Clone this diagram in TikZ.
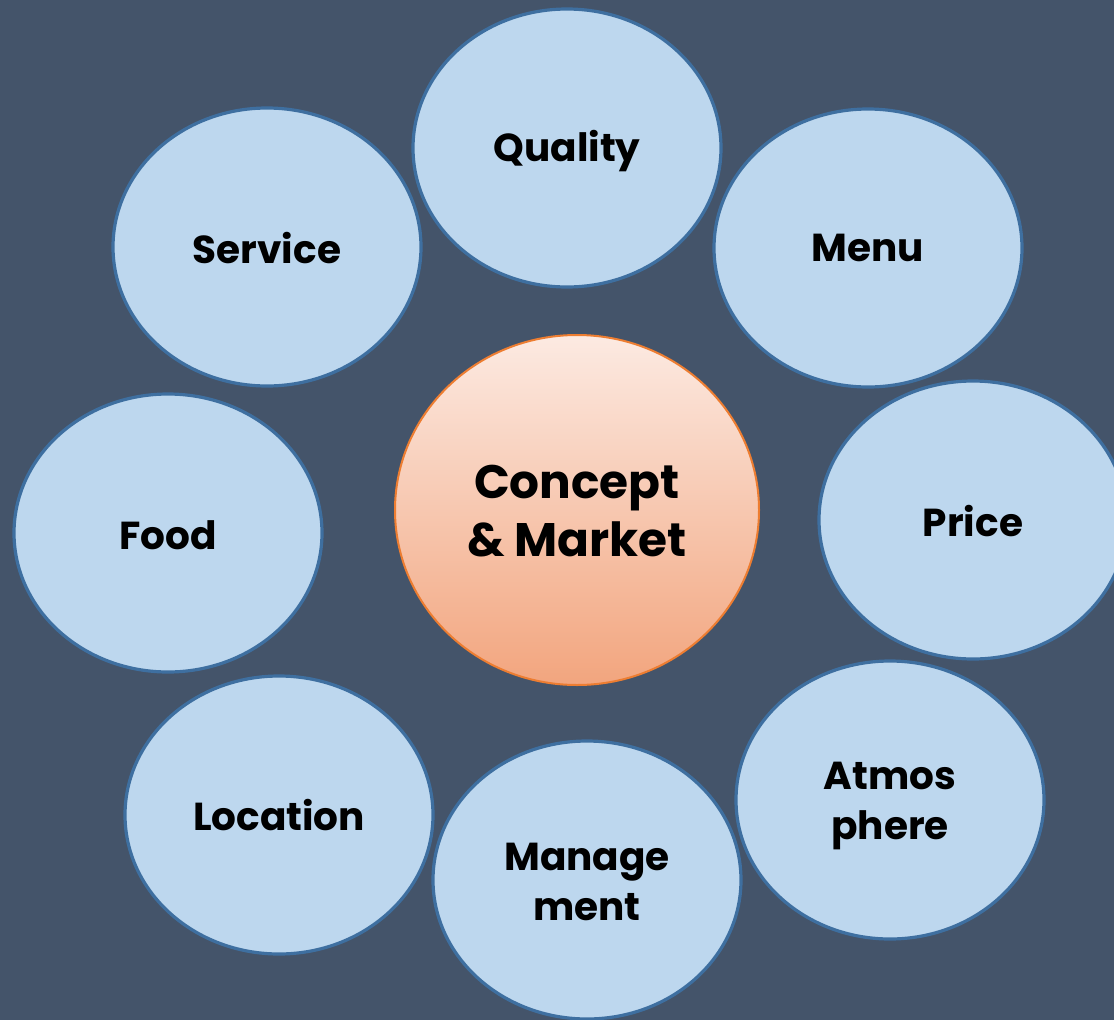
\documentclass[tikz,border=0pt]{standalone}
\usepackage{fontspec}
\setmainfont{Poppins}[BoldFont={* Bold}]
\usetikzlibrary{shapes.geometric}
\definecolor{bgc}{HTML}{44546A}
\definecolor{bubfill}{HTML}{BDD7EE}
\definecolor{bubdraw}{HTML}{3E6FA0}
\definecolor{ctop}{HTML}{FCEAE2}
\definecolor{cbot}{HTML}{F2A57E}
\definecolor{cdraw}{HTML}{ED7D31}
\tikzset{
  bubble/.style={ellipse, draw=bubdraw, fill=bubfill, line width=3.2pt,
    minimum width=308pt, minimum height=278pt, inner sep=0pt},
  btext/.style={font=\bfseries\fontsize{39}{50}\selectfont, align=center, text=black},
  centre/.style={ellipse, draw=cdraw, line width=2pt, top color=ctop, bottom color=cbot,
    minimum width=364pt, minimum height=350pt, inner sep=0pt},
  ctext/.style={font=\bfseries\fontsize{47}{58}\selectfont, align=center, text=black}
}
\begin{document}
\begin{tikzpicture}[x=1pt,y=-1pt]
\useasboundingbox (0,0) rectangle (1114,1020);
\fill[bgc] (0,0) rectangle (1114,1020);
\clip (0,0) rectangle (1114,1020);
\node[centre] (cm) at (577,510) {};
\node[bubble] (quality) at (567,148) {};
\node[bubble] (menu) at (868,248) {};
\node[bubble] (price) at (973,520) {};
\node[bubble] (atmos) at (890,800) {};
\node[bubble] (manage) at (587,880) {};
\node[bubble] (location) at (279,815) {};
\node[bubble] (food) at (168,533) {};
\node[bubble] (service) at (267,247) {};
\node[ctext] (cmt) at (577,511) {Concept\\\& Market};
\node[btext] (qt) at (567,151) {Quality};
\node[btext] (mt) at (868,248) {Menu};
\node[btext] (pt) at (973,521) {Price};
\node[btext] (at) at (890,806) {Atmos\\phere};
\node[btext] (mgt) at (587,882) {Manage\\ment};
\node[btext] (lt) at (279,815) {Location};
\node[btext] (ft) at (168,535) {Food};
\node[btext] (st) at (267,248) {Service};
\end{tikzpicture}
\end{document}
